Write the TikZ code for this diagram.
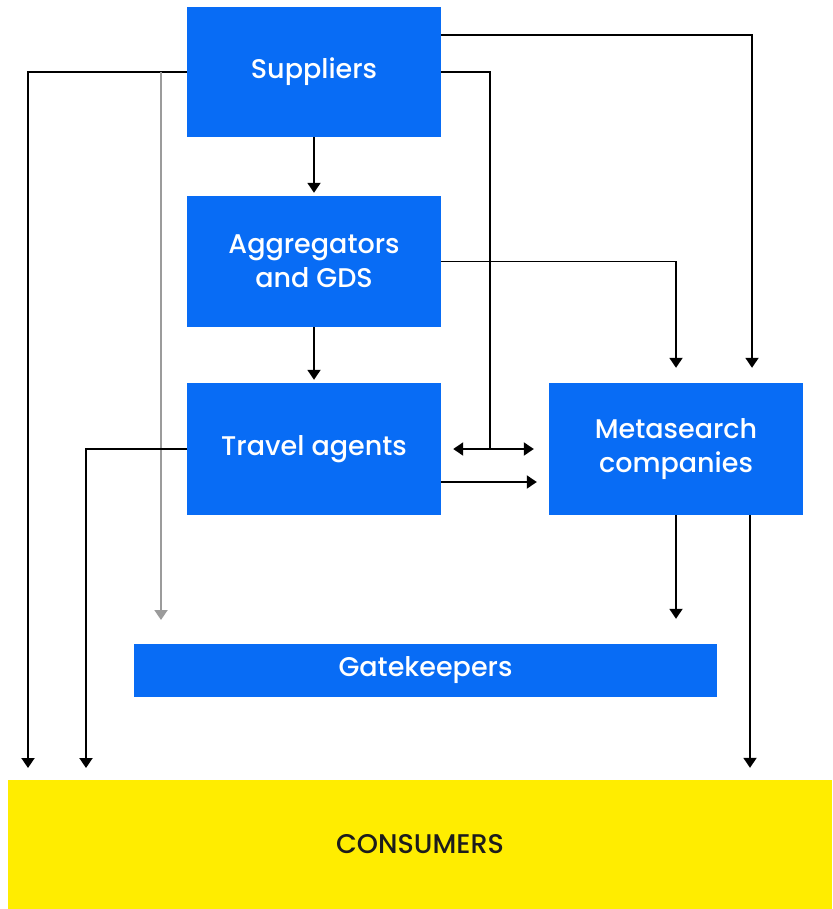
\documentclass[tikz,border=0pt]{standalone}
\usepackage{fontspec}
\setmainfont{Poppins}
\newfontfamily\medfont{Poppins}[UprightFont=* Medium]
\usetikzlibrary{arrows.meta}
\definecolor{boxblue}{RGB}{8,108,245}
\definecolor{consyellow}{RGB}{255,237,0}
\definecolor{softgray}{RGB}{155,155,155}
\begin{document}
\begin{tikzpicture}[x=1pt,y=-1pt,
  box/.style={fill=boxblue, text=white, align=center, inner sep=0pt,
    font=\medfont\fontsize{27}{34}\selectfont},
  conn/.style={line width=1.9pt, draw=black},
  link/.style={conn, -{Triangle[width=13pt,length=10pt]}},
  both/.style={conn, {Triangle[width=13pt,length=10pt]}-{Triangle[width=13pt,length=10pt]}},
  graylink/.style={line width=1.9pt, draw=softgray, -{Triangle[width=13pt,length=10pt]}}]
\useasboundingbox (0,0) rectangle (832,909);

% boxes
\node[box, minimum width=254pt, minimum height=130pt] (sup) at (314,72) {Suppliers};
\node[box, minimum width=254pt, minimum height=131pt] (agg) at (314,261.5) {Aggregators\\and GDS};
\node[box, minimum width=254pt, minimum height=132pt] (ta) at (314,449) {Travel agents};
\node[box, minimum width=254pt, minimum height=132pt] (ms) at (676,449) {Metasearch\\companies};
\node[box, minimum width=583pt, minimum height=53pt] (gk) at (425.5,670.5) {Gatekeepers};
\node[box, fill=consyellow, text={rgb,255:red,28;green,28;blue,28}, minimum width=824pt, minimum height=129pt] (cons) at (420,844.5) {CONSUMERS};

% free ends
\coordinate (leftend) at (28,768);
\coordinate (taend) at (86,768);
\coordinate (graystart) at (161,72);
\coordinate (grayend) at (161,620);
\coordinate (join) at (490,449);

% connectors
\draw[link] (sup.west) -| (leftend);
\draw[graylink] (graystart) -- (grayend);
\draw[link, shorten >=3pt] (sup.south) -- (agg.north);
\draw[link, shorten >=3pt] (agg.south) -- (ta.north);
\draw[conn] (sup.east) -| (join);
\draw[link, shorten >=15pt] ([yshift=37pt]sup.east) -| ([xshift=76pt]ms.north);
\draw[link, shorten >=15pt] (agg.east) -| (ms.north);
\draw[both, shorten <=12pt, shorten >=15pt] (ta.east) -- (ms.west);
\draw[link, shorten >=12pt] ([yshift=-33pt]ta.east) -- ([yshift=-33pt]ms.west);
\draw[link] (ta.west) -| (taend);
\draw[link, shorten >=25pt] (ms.south) -- (ms.south |- gk.north);
\draw[link, shorten >=12pt] ([xshift=74pt]ms.south) -- ([xshift=74pt]ms.south |- cons.north);
\end{tikzpicture}
\end{document}
